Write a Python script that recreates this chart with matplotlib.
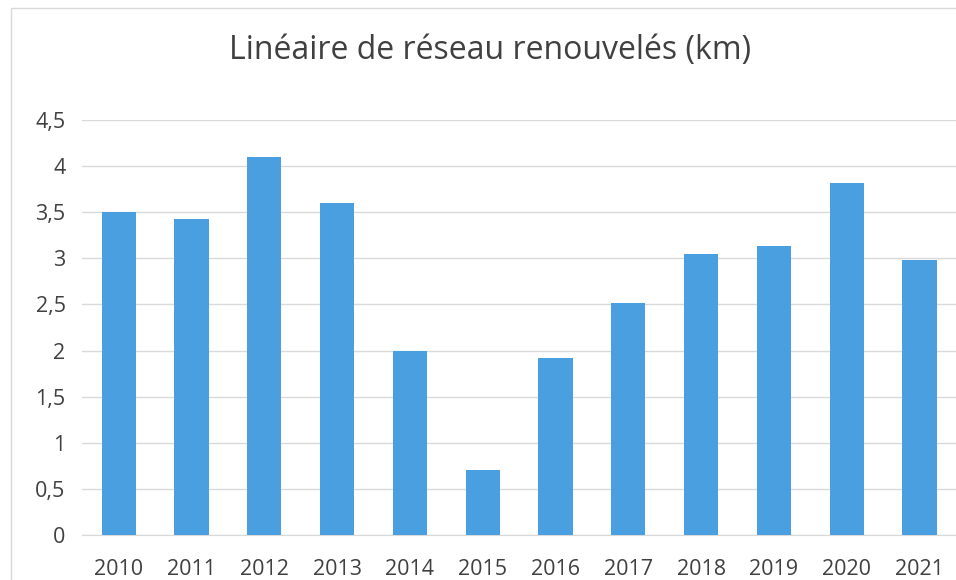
import matplotlib
matplotlib.use("Agg")
import matplotlib.pyplot as plt
from matplotlib.patches import Rectangle

years = ['2010', '2011', '2012', '2013', '2014', '2015', '2016', '2017',
         '2018', '2019', '2020', '2021']
km = [3.50, 3.43, 4.10, 3.60, 2.00, 0.70, 1.92, 2.52, 3.05, 3.13, 3.82, 2.98]
yticks = [0, 0.5, 1, 1.5, 2, 2.5, 3, 3.5, 4, 4.5]
ytick_labels = ['0', '0,5', '1', '1,5', '2', '2,5', '3', '3,5', '4', '4,5']

plt.rcParams['font.family'] = ['Open Sans', 'DejaVu Sans']

fig = plt.figure(figsize=(9.56, 5.80), dpi=100)
ax = fig.add_axes([0.086, 0.0776, 0.914, 0.7155])

ax.bar(range(len(years)), km, width=0.47, color='#4a9fe1', zorder=3)

ax.set_xlim(-0.5, len(years) - 0.5)
ax.set_ylim(0, 4.5)
ax.set_yticks(yticks)
ax.set_yticklabels(ytick_labels)
ax.set_xticks(range(len(years)))
ax.set_xticklabels(years)
ax.tick_params(axis='both', length=0, labelsize=15.5, colors='#404040')
ax.tick_params(axis='x', pad=17)
ax.tick_params(axis='y', pad=12)

ax.grid(axis='y', color='#d9d9d9', linewidth=1, zorder=0)
for s in ['top', 'right', 'left']:
    ax.spines[s].set_visible(False)
ax.spines['bottom'].set_color('#d9d9d9')

fig.text(0.513, 0.913, 'Linéaire de réseau renouvelés (km)', ha='center',
         va='center', fontsize=23, color='#404040')

# faint outer frame of the original chart
fig.patches.append(Rectangle((0.012, -0.1), 1.2, 1.087, transform=fig.transFigure,
                             fill=False, edgecolor='#d9d9d9', linewidth=1))

fig.savefig('out.png', dpi=100)
